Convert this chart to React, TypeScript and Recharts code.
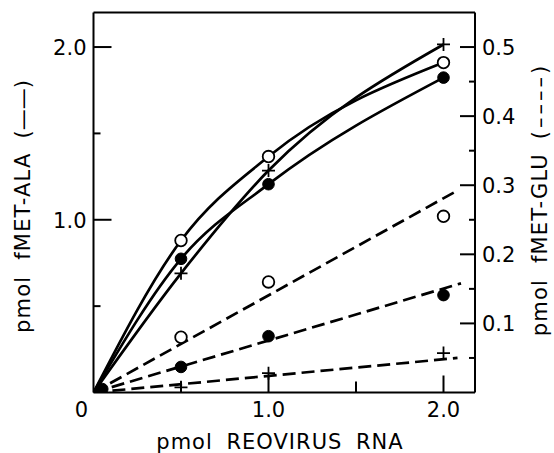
import React from 'react';
import { ComposedChart, Line, Scatter, XAxis, YAxis, ReferenceLine } from 'recharts';

const FONT = '"DejaVu Sans", sans-serif';

// pmol reovirus RNA
const doses = [0.5, 1.0, 2.0];

// pmol fMET-ALA (left axis, solid curves)
const alaPlus = [0.69, 1.285, 2.015];
const alaOpen = [0.88, 1.366, 1.91];
const alaFilled = [0.774, 1.206, 1.823];

// pmol fMET-GLU (right axis, dashed lines)
const gluOpen = [0.08, 0.16, 0.255];
const gluFilled = [0.037, 0.0815, 0.141];
const gluPlus = [0.0075, 0.028, 0.057];

// straight dashed fits, [x, y] end points
const gluOpenFit = [[0, 0], [2.07, 0.291]];
const gluFilledFit = [[0, 0], [2.1, 0.158]];
const gluPlusFit = [[0, 0], [2.08, 0.05]];

// overlapping markers at the origin
const originBlob = [[0.05, 0.02]];

const xTicks = [0, 0.5, 1.0, 1.5, 2.0];
const leftTicks = [0.5, 1.0, 1.5, 2.0];
const rightTicks = [0.05, 0.1, 0.15, 0.2, 0.25, 0.3, 0.35, 0.4, 0.45, 0.5];

const pts = (ys: number[]) => doses.map((x, i) => ({ x, y: ys[i] }));
const curve = (ys: number[]) => [{ x: 0, y: 0 }, ...pts(ys)];
const pairs = (p: number[][]) => p.map(([x, y]) => ({ x, y }));

const txt = { fontFamily: FONT, fontSize: 21, fill: '#000' };

const XTick = (props: any) => {
  const { x, y, payload } = props;
  const v = payload.value;
  const major = v === 1 || v === 2;
  return (
    <g>
      {v > 0 && <line x1={x} x2={x} y1={y} y2={y - (major ? 17 : 11)} stroke="#000" strokeWidth={2} />}
      {(v === 0 || major) && (
        <text x={v === 0 ? x - 12 : x} y={y + 24} textAnchor="middle" {...txt}>
          {v === 0 ? '0' : v.toFixed(1)}
        </text>
      )}
    </g>
  );
};

const LeftTick = (props: any) => {
  const { x, y, payload } = props;
  const v = payload.value;
  const major = v === 1 || v === 2;
  return (
    <g>
      <line x1={x} x2={x + (major ? 18 : 7)} y1={y} y2={y} stroke="#000" strokeWidth={2} />
      {major && (
        <text x={x - 7} y={y + 8} textAnchor="end" {...txt}>
          {v.toFixed(1)}
        </text>
      )}
    </g>
  );
};

const RightTick = (props: any) => {
  const { x, y, payload } = props;
  const v = payload.value;
  const major = Math.round(v * 100) % 10 === 0;
  return (
    <g>
      <line x1={x} x2={x - (major ? 15 : 6)} y1={y} y2={y} stroke="#000" strokeWidth={2} />
      {major && (
        <text x={x + 7} y={y + 8} textAnchor="start" {...txt}>
          {v.toFixed(1)}
        </text>
      )}
    </g>
  );
};

const Plus = (props: any) => {
  const { cx, cy } = props;
  return <path d={`M${cx - 6.5},${cy}H${cx + 6.5}M${cx},${cy - 6.5}V${cy + 6.5}`} stroke="#000" strokeWidth={1.8} fill="none" />;
};
const OpenDot = (props: any) => <circle cx={props.cx} cy={props.cy} r={5.8} fill="#fff" stroke="#000" strokeWidth={1.8} />;
const FilledDot = (props: any) => <circle cx={props.cx} cy={props.cy} r={5.8} fill="#000" stroke="#000" strokeWidth={1} />;

const XTitle = () => (
  <text x={280} y={449} textAnchor="middle" {...txt} letterSpacing={1} wordSpacing={6}>
    pmol REOVIRUS RNA
  </text>
);

const LeftTitle = () => (
  <text transform="translate(30,206.5) rotate(-90)" textAnchor="middle" {...txt}>
    <tspan letterSpacing={1.2} wordSpacing={8}>pmol fMET-ALA</tspan>
    <tspan dx={14}>(——)</tspan>
  </text>
);

const RightTitle = () => (
  <text transform="translate(547,199.5) rotate(-90)" textAnchor="middle" {...txt}>
    <tspan letterSpacing={1.2} wordSpacing={8}>pmol fMET-GLU</tspan>
    <tspan dx={14} letterSpacing={3}>(––––)</tspan>
  </text>
);

export default function App() {
  const solid = { stroke: '#000', strokeWidth: 2.7, dot: false, type: 'monotone' as const, isAnimationActive: false, xAxisId: 'x', dataKey: 'y' };
  const dashed = { stroke: '#000', strokeWidth: 2.7, strokeDasharray: '13 6', dot: false, type: 'linear' as const, isAnimationActive: false, xAxisId: 'x', yAxisId: 'right', dataKey: 'y' };
  return (
    <div style={{ position: 'absolute', left: 0, top: 0, width: 554, height: 453, background: '#fff' }}>
      <ComposedChart width={554} height={453} margin={{ top: 12.5, right: 0, bottom: 0, left: 0 }} style={{ fontFamily: FONT }}>
        <XAxis
          xAxisId="x"
          type="number"
          dataKey="x"
          domain={[0, 2.18]}
          allowDataOverflow
          ticks={xTicks}
          height={60.5}
          tickSize={0}
          tickMargin={0}
          tickLine={false}
          axisLine={{ stroke: '#000', strokeWidth: 2 }}
          tick={<XTick />}
          interval={0}
          label={<XTitle />}
        />
        <YAxis
          yAxisId="left"
          type="number"
          dataKey="y"
          domain={[0, 2.2]}
          allowDataOverflow
          ticks={leftTicks}
          width={93.5}
          tickSize={0}
          tickMargin={0}
          tickLine={false}
          axisLine={{ stroke: '#000', strokeWidth: 2 }}
          tick={<LeftTick />}
          interval={0}
          label={<LeftTitle />}
        />
        <YAxis
          yAxisId="right"
          orientation="right"
          type="number"
          dataKey="y"
          domain={[0, 0.55]}
          allowDataOverflow
          ticks={rightTicks}
          width={79}
          tickSize={0}
          tickMargin={0}
          tickLine={false}
          axisLine={{ stroke: '#000', strokeWidth: 2 }}
          tick={<RightTick />}
          interval={0}
          label={<RightTitle />}
        />
        <ReferenceLine xAxisId="x" yAxisId="left" y={2.2} stroke="#000" strokeWidth={2} />

        <Line {...solid} yAxisId="left" data={curve(alaOpen)} />
        <Line {...solid} yAxisId="left" data={curve(alaPlus)} />
        <Line {...solid} yAxisId="left" data={curve(alaFilled)} />

        <Line {...dashed} data={pairs(gluOpenFit)} />
        <Line {...dashed} data={pairs(gluFilledFit)} />
        <Line {...dashed} data={pairs(gluPlusFit)} />

        <Scatter xAxisId="x" yAxisId="left" dataKey="y" data={pts(alaOpen)} shape={OpenDot} isAnimationActive={false} />
        <Scatter xAxisId="x" yAxisId="left" dataKey="y" data={pts(alaPlus)} shape={Plus} isAnimationActive={false} />
        <Scatter xAxisId="x" yAxisId="left" dataKey="y" data={pts(alaFilled)} shape={FilledDot} isAnimationActive={false} />
        <Scatter xAxisId="x" yAxisId="left" dataKey="y" data={pairs(originBlob)} shape={FilledDot} isAnimationActive={false} />

        <Scatter xAxisId="x" yAxisId="right" dataKey="y" data={pts(gluOpen)} shape={OpenDot} isAnimationActive={false} />
        <Scatter xAxisId="x" yAxisId="right" dataKey="y" data={pts(gluFilled)} shape={FilledDot} isAnimationActive={false} />
        <Scatter xAxisId="x" yAxisId="right" dataKey="y" data={pts(gluPlus)} shape={Plus} isAnimationActive={false} />
      </ComposedChart>
    </div>
  );
}
